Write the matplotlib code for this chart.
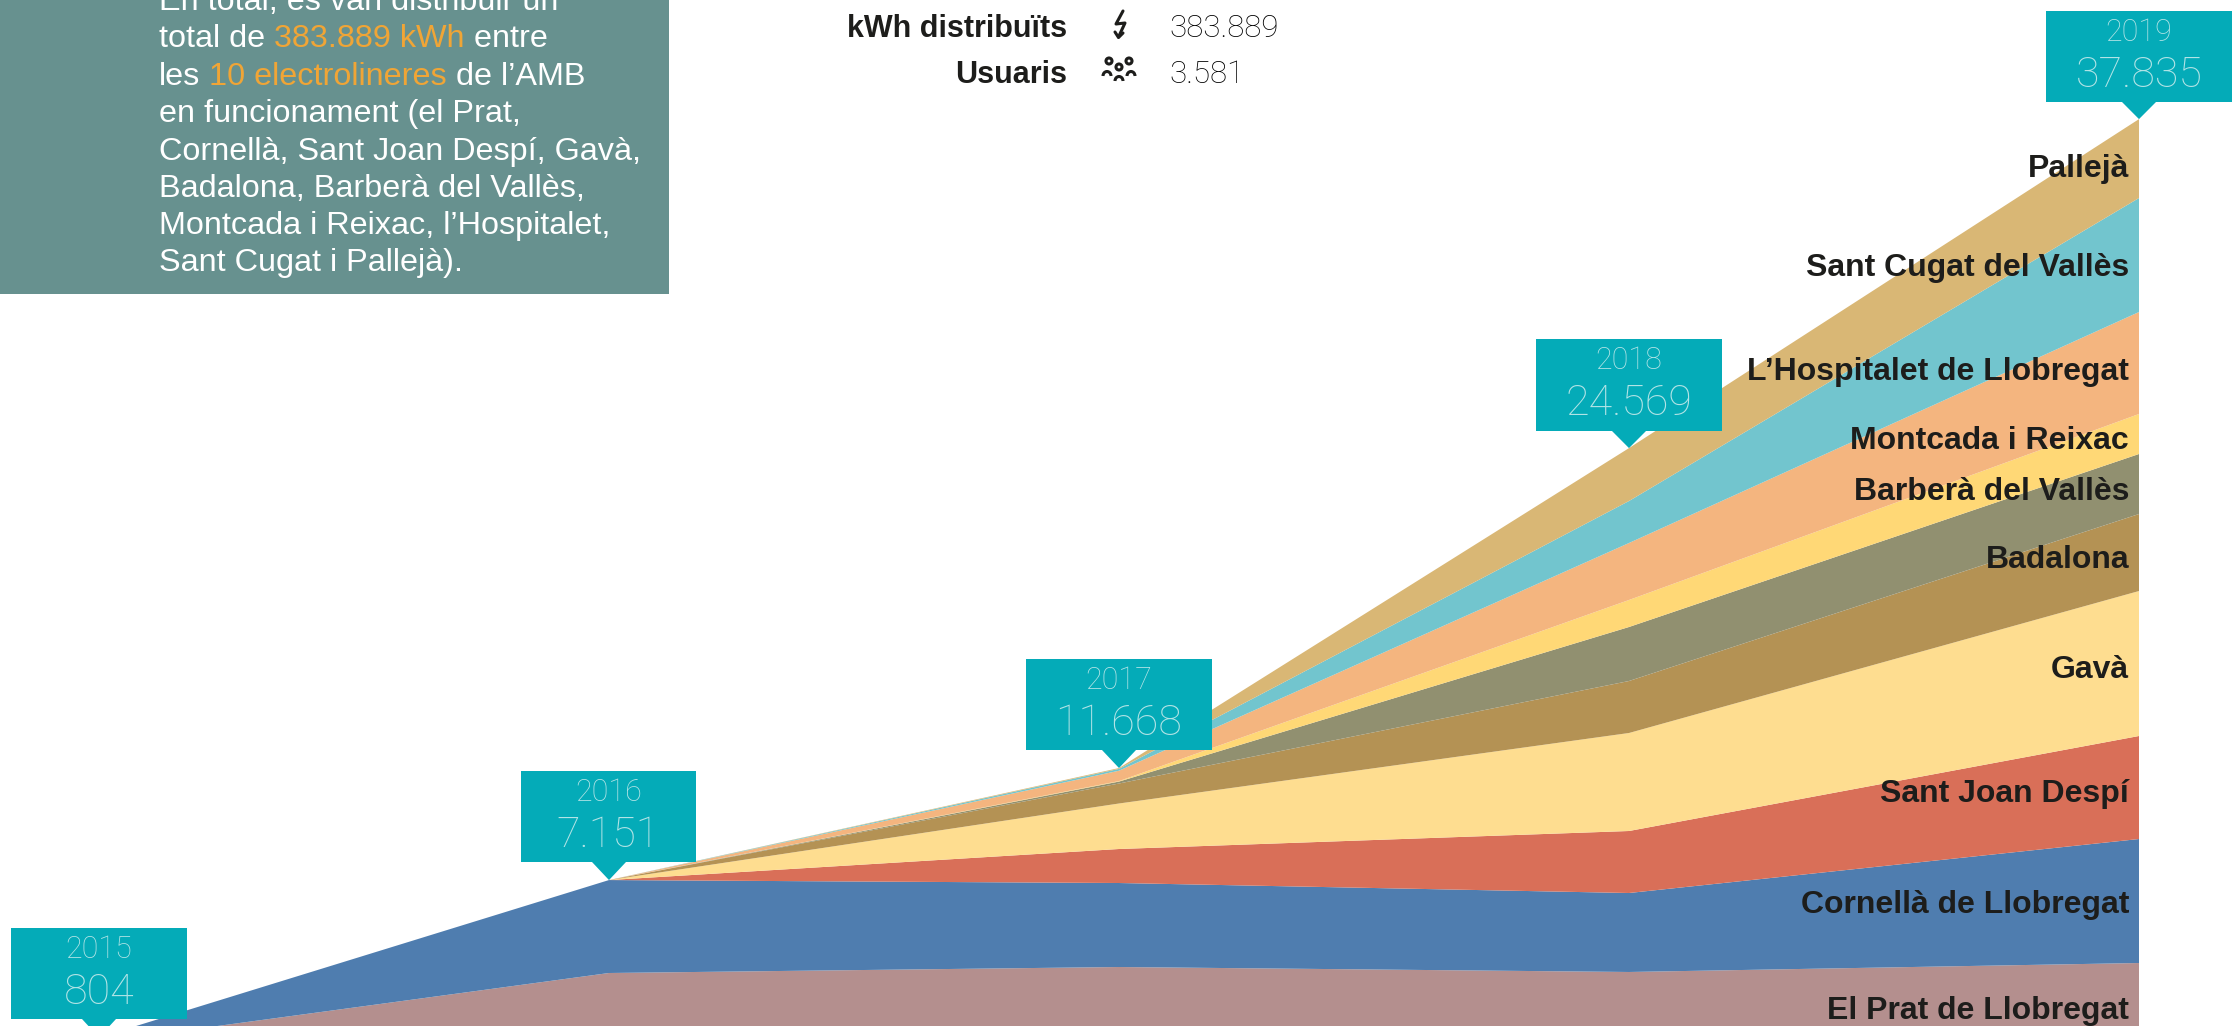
import matplotlib
matplotlib.use("Agg")
import matplotlib.pyplot as plt
from matplotlib.patches import Polygon, Rectangle, Circle, Arc

years = [2015, 2016, 2017, 2018, 2019]
totals = [804, 7151, 11668, 24569, 37835]
total_labels = ["804", "7.151", "11.668", "24.569", "37.835"]

el_prat = [620, 3403, 3645, 3444, 3806]
cornella = [184, 3748, 3387, 3185, 5000]
sant_joan = [0, 0, 1371, 2500, 4154]
gava = [0, 0, 1835, 3952, 5846]
badalona = [0, 0, 806, 2096, 3105]
barbera = [0, 0, 78, 2178, 2420]
montcada = [0, 0, 20, 1089, 1613]
hospitalet = [0, 0, 418, 2298, 4112]
sant_cugat = [0, 0, 74, 1693, 4597]
palleja = [0, 0, 34, 2134, 3182]

series = [el_prat, cornella, sant_joan, gava, badalona, barbera, montcada,
          hospitalet, sant_cugat, palleja]
colors = ["#B48F8E", "#4F7DAF", "#D96F58", "#FEDD90", "#B49254", "#919070",
          "#FFD876", "#F4B57F", "#72C5CE", "#D9B775"]
labels = ["El Prat de Llobregat", "Cornellà de Llobregat", "Sant Joan Despí", "Gavà",
          "Badalona", "Barberà del Vallès", "Montcada i Reixac",
          "L’Hospitalet de Llobregat", "Sant Cugat del Vallès", "Pallejà"]
label_baselines = [1019, 913, 802, 678, 568, 500, 449, 380, 276, 177]

W, H = 2232, 1026
fig = plt.figure(figsize=(W / 100, H / 100), dpi=100, facecolor="white")

# chart axes: full figure, data scale
ax = fig.add_axes([0, 0, 1, 1])
X0, PX_YEAR, Y0, K = 99, 510, 1057.4, 0.0248
ax.set_xlim(years[0] - X0 / PX_YEAR, years[0] + (W - X0) / PX_YEAR)
ax.set_ylim((Y0 - H) / K, Y0 / K)
ax.axis("off")
ax.stackplot(years, series, colors=colors, linewidth=0)

# overlay in pixel coordinates
pix = fig.add_axes([0, 0, 1, 1], facecolor="none")
pix.set_xlim(0, W)
pix.set_ylim(H, 0)
pix.axis("off")

LIGHT = "Roboto"
BOLD = "Liberation Sans"
PANEL = "Liberation Sans"
TXT = "#1D1D1B"
CALLOUT_TXT = "#B2E4E6"

def to_px(x, y):
    return ax.transData.transform((x, y))[0], H - ax.transData.transform((x, y))[1]

# callouts
boxes = [(11, 187, 928, 1019), (521, 696, 771, 862), (1026, 1212, 659, 750),
         (1536, 1722, 339, 431), (2046, 2232, 11, 102)]
for yr, tot, lab, (l, r, t, b) in zip(years, totals, total_labels, boxes):
    tx, ty = to_px(yr, tot)
    pix.add_patch(Rectangle((l, t), r - l, b - t, fc="#04ABB8", ec="none", zorder=5))
    pix.add_patch(Polygon([(tx - 17, b), (tx + 17, b), (tx, ty)], fc="#04ABB8", ec="none",
                          zorder=5, clip_on=True))
    cx = (l + r) / 2
    pix.text(cx, t + 30, str(yr), ha="center", va="baseline", fontsize=22, family=LIGHT,
             weight="light", color=CALLOUT_TXT, zorder=6)
    pix.text(cx, t + 76, lab, ha="center", va="baseline", fontsize=31, family=LIGHT,
             weight="light", color=CALLOUT_TXT, zorder=6)

# area labels
for lab, yb in zip(labels, label_baselines):
    pix.text(2129, yb, lab, ha="right", va="baseline", fontsize=23, family=BOLD,
             weight="bold", color=TXT, zorder=6)

# panel
pix.add_patch(Rectangle((0, 0), 669, 294, fc="#67918F", ec="none", zorder=4))
WHITE, ORANGE = "#FFFFFF", "#F0A536"
panel_lines = [
    [("En total, es van distribuir un", WHITE)],
    [("total de ", WHITE), ("383.889 kWh", ORANGE), (" entre", WHITE)],
    [("les ", WHITE), ("10 electrolineres", ORANGE), (" de l’AMB", WHITE)],
    [("en funcionament (el Prat,", WHITE)],
    [("Cornellà, Sant Joan Despí, Gavà,", WHITE)],
    [("Badalona, Barberà del Vallès,", WHITE)],
    [("Montcada i Reixac, l’Hospitalet,", WHITE)],
    [("Sant Cugat i Pallejà).", WHITE)],
]
panel_base = [10, 47, 85, 122, 160, 197, 234, 271]
PANEL_SIZE = 23.35
fig.canvas.draw()
rend = fig.canvas.get_renderer()
for parts, yb in zip(panel_lines, panel_base):
    x = 159
    for s, c in parts:
        lead = len(s) - len(s.lstrip(" "))
        # measure with surrounding markers so spaces are counted
        tm = pix.text(0, 0, "|" + s + "|", fontsize=PANEL_SIZE, family=PANEL)
        tb = pix.text(0, 0, "||", fontsize=PANEL_SIZE, family=PANEL)
        w = tm.get_window_extent(rend).width - tb.get_window_extent(rend).width
        tm.remove(); tb.remove()
        pix.text(x, yb, "\u00a0" * lead + s.strip(" "), ha="left", va="baseline",
                 fontsize=PANEL_SIZE, family=PANEL, color=c, zorder=6)
        x += w

# header
pix.text(1067, 37, "kWh distribuïts", ha="right", va="baseline", fontsize=22, family=BOLD,
         weight="bold", color=TXT)
pix.text(1067, 83, "Usuaris", ha="right", va="baseline", fontsize=22, family=BOLD,
         weight="bold", color=TXT)
pix.text(1169, 37, "383.889", ha="left", va="baseline", fontsize=22.5, family=LIGHT,
         weight="light", color="#000000")
pix.text(1169, 83, "3.581", ha="left", va="baseline", fontsize=22.5, family=LIGHT,
         weight="light", color="#000000")

# icons
pix.plot([1123, 1116, 1125, 1118.5], [11, 24, 23, 37], color=TXT, lw=2.2, solid_capstyle="round")
pix.plot([1115, 1118.5, 1123], [32, 37.5, 33], color=TXT, lw=2.2, solid_capstyle="round")
for cx, cy in [(1109, 61), (1129, 61), (1119, 67)]:
    pix.add_patch(Circle((cx, cy), 3, fc="none", ec=TXT, lw=2.2))
for cx, cy in [(1107, 76), (1131, 76), (1119, 81)]:
    pix.add_patch(Arc((cx, cy), 8, 9, theta1=180, theta2=360, ec=TXT, lw=2.2))

fig.savefig("out.png", dpi=100, facecolor="white")
